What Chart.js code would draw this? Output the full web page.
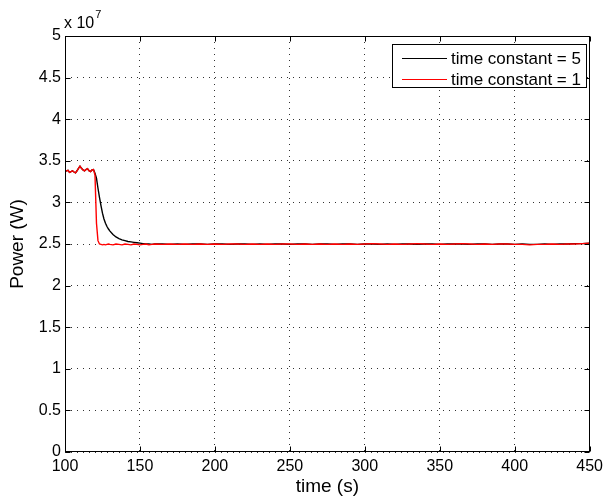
<!DOCTYPE html>
<html>
<head>
<meta charset="utf-8">
<script src="https://cdn.jsdelivr.net/npm/chart.js@4/dist/chart.umd.min.js"></script>
<style>
  html, body { margin: 0; padding: 0; background: #fff; }
  #wrap { width: 608px; height: 496px; }
</style>
</head>
<body>
<div id="wrap"><canvas id="c" width="608" height="496"></canvas></div>
<script>
// Sample times (s)
const timeSec = [
  100,101,102,103,104,105,106,107,108,109,110,111,112,113,114,115,116,117,118,119,
  120,121,122,123,124,125,126,127,128,129,130,
  132,134,136,138,140,142,144,146,148,150,152,154,156,158,160,
  165,170,175,180,185,190,195,200,205,210,215,220,225,230,235,240,245,250,255,260,
  265,270,275,280,285,290,295,300,305,310,315,320,325,330,335,340,345,350,355,360,
  365,370,375,380,385,390,395,400,405,410,415,420,425,430,435,440,445,450
];

// Power in units of 1e7 W, time constant = 5
const powerTau5 = [
  3.37,3.38,3.385,3.36,3.37,3.38,3.365,3.355,3.38,3.41,3.435,3.41,3.39,3.38,3.395,3.405,3.38,3.37,3.39,3.395,
  3.35,3.29,3.17,3.06,2.96,2.87,2.80,2.75,2.71,2.68,2.655,
  2.615,2.585,2.565,2.55,2.54,2.53,2.525,2.52,2.515,2.51,2.505,2.50,2.50,2.495,2.50,
  2.50,2.495,2.50,2.495,2.50,2.50,2.495,2.50,2.50,2.495,2.50,2.50,2.495,2.50,2.495,2.50,2.50,2.495,2.50,2.50,
  2.495,2.50,2.50,2.495,2.50,2.50,2.495,2.50,2.50,2.495,2.50,2.495,2.50,2.50,2.495,2.50,2.50,2.495,2.50,2.50,
  2.50,2.495,2.50,2.50,2.495,2.50,2.50,2.495,2.50,2.495,2.495,2.50,2.495,2.50,2.50,2.505,2.505,2.51
];

// Power in units of 1e7 W, time constant = 1
const powerTau1 = [
  3.37,3.38,3.385,3.36,3.37,3.38,3.365,3.355,3.38,3.41,3.435,3.41,3.39,3.38,3.395,3.405,3.38,3.37,3.39,3.395,
  3.33,2.75,2.54,2.50,2.495,2.49,2.495,2.49,2.495,2.50,2.495,
  2.49,2.50,2.495,2.49,2.50,2.495,2.49,2.50,2.495,2.49,2.495,2.50,2.49,2.495,2.50,
  2.495,2.50,2.495,2.50,2.495,2.50,2.495,2.50,2.495,2.50,2.50,2.495,2.50,2.495,2.50,2.495,2.50,2.50,2.495,2.50,
  2.495,2.50,2.495,2.50,2.495,2.50,2.495,2.50,2.505,2.50,2.495,2.50,2.495,2.50,2.505,2.50,2.495,2.50,2.495,2.50,
  2.505,2.50,2.495,2.50,2.495,2.50,2.50,2.495,2.495,2.49,2.495,2.495,2.50,2.495,2.50,2.50,2.505,2.51
];

const seriesNames = ['time constant = 5', 'time constant = 1'];
const seriesColors = ['#000000', '#ff0000'];
const xTickValues = [100, 150, 200, 250, 300, 350, 400, 450];
const yTickValues = [0, 0.5, 1, 1.5, 2, 2.5, 3, 3.5, 4, 4.5, 5];
const xTitle = 'time (s)';
const yTitle = 'Power (W)';
const yExponent = '7';

const toPoints = (vals) => vals.map((v, i) => ({ x: timeSec[i], y: v }));

// Axes box, inward ticks, exponent note and legend
const matlabFrame = {
  id: 'matlabFrame',
  afterDraw(chart) {
    const { ctx, chartArea: a, scales } = chart;
    const L = Math.round(a.left) + 0.5, R = Math.round(a.right) - 0.5;
    const T = Math.round(a.top) + 0.5, B = Math.round(a.bottom) - 0.5;
    ctx.save();
    ctx.strokeStyle = '#000';
    ctx.lineWidth = 1;
    ctx.setLineDash([]);
    ctx.strokeRect(L, T, R - L, B - T);
    const tl = 5;
    ctx.beginPath();
    xTickValues.forEach(v => {
      const px = Math.round(scales.x.getPixelForValue(v)) + 0.5;
      ctx.moveTo(px, B); ctx.lineTo(px, B - tl);
      ctx.moveTo(px, T); ctx.lineTo(px, T + tl);
    });
    yTickValues.forEach(v => {
      const py = Math.round(scales.y.getPixelForValue(v)) + 0.5;
      ctx.moveTo(L, py); ctx.lineTo(L + tl, py);
      ctx.moveTo(R, py); ctx.lineTo(R - tl, py);
    });
    ctx.stroke();

    // exponent note above the y axis
    ctx.fillStyle = '#000';
    ctx.textBaseline = 'alphabetic';
    ctx.textAlign = 'left';
    ctx.font = '16px "Liberation Sans", Arial, sans-serif';
    const base = 'x 10';
    ctx.fillText(base, a.left - 1, 28);
    const w = ctx.measureText(base).width;
    ctx.font = '11px "Liberation Sans", Arial, sans-serif';
    ctx.fillText(yExponent, a.left - 1 + w + 1, 18);

    // legend
    const bx = 392.5, by = 44.5, bw = 194, bh = 43;
    ctx.fillStyle = '#fff';
    ctx.fillRect(bx, by, bw, bh);
    ctx.strokeStyle = '#000';
    ctx.strokeRect(bx, by, bw, bh);
    ctx.font = '17px "Liberation Sans", Arial, sans-serif';
    ctx.textBaseline = 'middle';
    seriesNames.forEach((name, i) => {
      const cy = 58.5 + i * 21;
      ctx.strokeStyle = seriesColors[i];
      ctx.lineWidth = 1.2;
      ctx.beginPath();
      ctx.moveTo(402, cy); ctx.lineTo(447, cy);
      ctx.stroke();
      ctx.fillStyle = '#000';
      ctx.fillText(name, 451, cy + 0.5);
    });
    ctx.restore();
  }
};

const tickFont = { family: '"Liberation Sans", Arial, sans-serif', size: 16 };
const titleFont = { family: '"Liberation Sans", Arial, sans-serif', size: 19, lineHeight: 1 };

new Chart(document.getElementById('c'), {
  type: 'line',
  data: {
    datasets: [
      { label: seriesNames[0], data: toPoints(powerTau5), borderColor: seriesColors[0], borderWidth: 1.4, pointRadius: 0, tension: 0, order: 1 },
      { label: seriesNames[1], data: toPoints(powerTau1), borderColor: seriesColors[1], borderWidth: 1.4, pointRadius: 0, tension: 0, order: 0 }
    ]
  },
  options: {
    responsive: false,
    animation: false,
    layout: { padding: { left: 0, right: 15, top: 36, bottom: 0 } },
    plugins: { legend: { display: false }, tooltip: { enabled: false } },
    scales: {
      x: {
        type: 'linear', min: 100, max: 450,
        afterBuildTicks: (s) => { s.ticks = xTickValues.map(v => ({ value: v })); },
        afterFit: (s) => { s.height = 44; },
        ticks: { color: '#000', font: tickFont, padding: 5, maxRotation: 0, autoSkip: false },
        grid: { color: '#333', lineWidth: 1, drawTicks: false },
        border: { display: false, dash: [1, 5] },
        title: { display: true, text: xTitle, color: '#000', font: titleFont, padding: { top: 0, bottom: 0 } }
      },
      y: {
        min: 0, max: 5,
        afterBuildTicks: (s) => { s.ticks = yTickValues.map(v => ({ value: v })); },
        afterFit: (s) => { s.width = 65; },
        ticks: { color: '#000', font: tickFont, padding: 4, autoSkip: false, callback: (v) => String(v) },
        grid: { color: '#333', lineWidth: 1, drawTicks: false },
        border: { display: false, dash: [1, 5] },
        title: { display: true, text: yTitle, color: '#000', font: titleFont, padding: { top: 8, bottom: 0 } }
      }
    }
  },
  plugins: [matlabFrame]
});
</script>
</body>
</html>
